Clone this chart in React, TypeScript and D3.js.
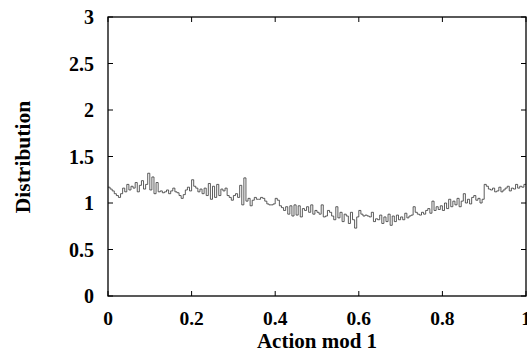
import React from "react";
import * as d3 from "d3";

const xTicks = [0, 0.2, 0.4, 0.6, 0.8, 1];
const xTickLabels = ["0", "0.2", "0.4", "0.6", "0.8", "1"];
const yTicks = [0, 0.5, 1, 1.5, 2, 2.5, 3];
const yTickLabels = ["0", "0.5", "1", "1.5", "2", "2.5", "3"];
const binWidth = 0.005;
const distribution = [
  1.17, 1.15, 1.13, 1.10, 1.08, 1.06, 1.10, 1.16, 1.12, 1.20, 1.14, 1.18, 1.16, 1.22, 1.12, 1.19, 1.24, 1.15, 1.20, 1.32,
  1.14, 1.28, 1.10, 1.22, 1.12, 1.13, 1.11, 1.12, 1.14, 1.10, 1.13, 1.16, 1.12, 1.11, 1.08, 1.05, 1.09, 1.14, 1.17, 1.13,
  1.25, 1.18, 1.16, 1.12, 1.15, 1.10, 1.16, 1.08, 1.21, 1.04, 1.18, 1.06, 1.20, 1.08, 1.15, 1.13, 1.16, 1.08, 1.06, 1.03,
  1.08, 1.10, 1.06, 1.19, 0.98, 1.27, 1.02, 1.05, 0.97, 1.03, 1.06, 1.04, 1.04, 1.06, 1.05, 1.02, 0.99, 0.98, 0.98, 0.99,
  1.05, 1.03, 0.97, 0.95, 0.92, 0.96, 0.88, 0.97, 0.86, 0.98, 0.87, 0.97, 0.85, 0.94, 0.92, 0.96, 0.90, 0.98, 0.88, 0.92,
  0.90, 0.88, 0.98, 0.85, 0.86, 0.92, 0.90, 0.86, 0.82, 0.96, 0.84, 0.90, 0.80, 0.88, 0.86, 0.78, 0.90, 0.82, 0.73, 0.85,
  0.92, 0.88, 0.86, 0.87, 0.86, 0.85, 0.90, 0.80, 0.83, 0.82, 0.87, 0.78, 0.85, 0.80, 0.88, 0.76, 0.86, 0.80, 0.87, 0.82,
  0.85, 0.82, 0.89, 0.84, 0.86, 0.87, 0.96, 0.90, 0.88, 0.87, 0.90, 0.88, 0.92, 0.94, 0.89, 1.02, 0.92, 0.96, 0.93, 0.97,
  0.92, 1.00, 0.94, 1.04, 0.96, 1.02, 0.98, 1.05, 0.96, 1.02, 1.10, 1.00, 1.04, 0.99, 1.06, 1.08, 1.03, 1.05, 1.00, 1.04,
  1.20, 1.18, 1.15, 1.14, 1.16, 1.12, 1.13, 1.17, 1.12, 1.14, 1.16, 1.18, 1.13, 1.16, 1.15, 1.20, 1.16, 1.18, 1.17, 1.20,
];

const W = 527, H = 353;
const L = 108, R = 526, T = 17, B = 296;
const font = "'Liberation Serif', 'Times New Roman', serif";

export default function App() {
  const x = d3.scaleLinear().domain([0, 1]).range([L, R]);
  const y = d3.scaleLinear().domain([0, 3]).range([B, T]);
  const pts: [number, number][] = distribution.map((v, i) => [i * binWidth, v]);
  pts.push([1, distribution[distribution.length - 1]]);
  const line = d3.line<[number, number]>()
    .x(d => x(d[0]))
    .y(d => y(d[1]))
    .curve(d3.curveStepAfter);
  const tl = 5;
  return (
    <svg width={W} height={H} style={{ position: "absolute", left: 0, top: 0, background: "#fff" }}>
      <rect x={0} y={0} width={W} height={H} fill="#fff" />
      <path d={line(pts) || ""} fill="none" stroke="#333" strokeWidth={0.8} />
      <rect x={L} y={T} width={R - L} height={B - T} fill="none" stroke="#000" strokeWidth={1.3} />
      {xTicks.map(t => (
        <g key={"xt" + t}>
          <line x1={x(t)} x2={x(t)} y1={B} y2={B - tl} stroke="#000" strokeWidth={1} />
          <line x1={x(t)} x2={x(t)} y1={T} y2={T + tl} stroke="#000" strokeWidth={1} />
        </g>
      ))}
      {yTicks.map(t => (
        <g key={"yt" + t}>
          <line x1={L} x2={L + tl} y1={y(t)} y2={y(t)} stroke="#000" strokeWidth={1} />
          <line x1={R} x2={R - tl} y1={y(t)} y2={y(t)} stroke="#000" strokeWidth={1} />
        </g>
      ))}
      {xTicks.map((t, i) => (
        <text key={"xl" + t} x={x(t)} y={325} textAnchor="middle" fontFamily={font} fontWeight="bold" fontSize={19.5}>
          {xTickLabels[i]}
        </text>
      ))}
      {yTicks.map((t, i) => (
        <text key={"yl" + t} x={94} y={y(t) + 7} textAnchor="end" fontFamily={font} fontWeight="bold" fontSize={20}>
          {yTickLabels[i]}
        </text>
      ))}
      <text x={317} y={348} textAnchor="middle" fontFamily={font} fontWeight="bold" fontSize={21}>
        Action mod 1
      </text>
      <text transform={`translate(30,${157}) rotate(-90)`} textAnchor="middle" fontFamily={font} fontWeight="bold" fontSize={21.5}>
        Distribution
      </text>
    </svg>
  );
}
